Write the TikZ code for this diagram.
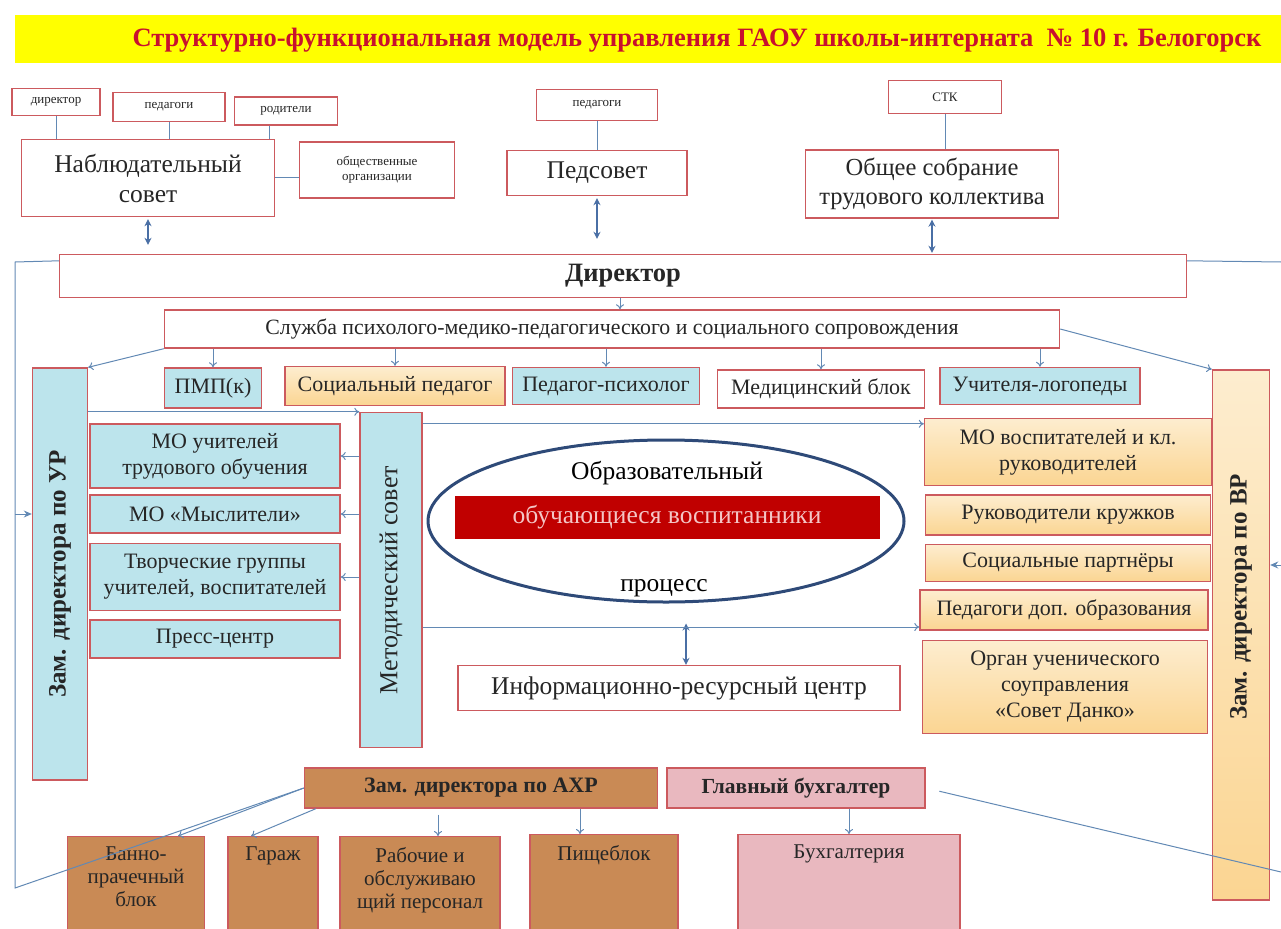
\documentclass[tikz,border=0pt]{standalone}
\usepackage{graphicx}
\usepackage{fontspec}
\setmainfont{Liberation Serif}
\usetikzlibrary{shapes,arrows,arrows.meta,positioning}

\definecolor{frame}{HTML}{CC5A5E}
\definecolor{waterblue}{HTML}{BCE4EC}
\definecolor{sandtop}{HTML}{FDEDCF}
\definecolor{sandbot}{HTML}{FBD592}
\definecolor{woodbrown}{HTML}{C98A55}
\definecolor{rosefill}{HTML}{E9B8BF}
\definecolor{linkblue}{HTML}{6289B4}
\definecolor{arrowblue}{HTML}{4A6FA5}
\definecolor{ellblue}{HTML}{2E4A78}
\definecolor{pupilred}{HTML}{C00000}
\definecolor{pupiltext}{HTML}{F4C6C6}
\definecolor{titleyellow}{HTML}{FFFF00}
\definecolor{titlered}{HTML}{C8102E}

\tikzset{
  box/.style={draw=frame, line width=1.4pt, align=center, inner sep=2pt, text=black!85},
  plain/.style={box, fill=white},
  water/.style={box, fill=waterblue},
  sand/.style={box, top color=sandtop, bottom color=sandbot},
  wood/.style={box, fill=woodbrown},
  rose/.style={box, fill=rosefill},
  tinytext/.style={font=\fontsize{13}{15}\selectfont},
  midtext/.style={font=\fontsize{22}{26}\selectfont},
  bigtext/.style={font=\fontsize{25.5}{30}\selectfont},
  boldtext/.style={font=\bfseries\fontsize{25}{28}\selectfont},
  woodlbl/.style={anchor=north, align=center, inner sep=0pt, yshift=-11pt,
    font=\fontsize{21}{23}\selectfont, text=black!85},
  link/.style={draw=linkblue, line width=1pt},
  arr/.style={link, -{To[length=5pt,width=8pt]}},
  tip/.style={link, -{Stealth[length=8pt,width=7pt]}},
  both/.style={draw=arrowblue, line width=1.3pt, {Stealth[length=7pt,width=7pt]}-{Stealth[length=7pt,width=7pt]}}
}

\begin{document}
\begin{tikzpicture}[x=1pt, y=-1pt]
\useasboundingbox (0,0) rectangle (1281,928);
\clip (0,0) rectangle (1281,928);

% title
\node[fill=titleyellow, minimum width=1266, minimum height=48] (titlebar) at (648,39) {};
\node[text=titlered, font=\bfseries\fontsize{26.5}{28}\selectfont] (title) at (697,40)
  {Структурно-функциональная модель управления ГАОУ школы-интерната ~№~10 г. Белогорск};

% top councils
\node[plain, tinytext, minimum width=88, minimum height=27] (dirsm) at (56,102) {директор};
\node[plain, tinytext, minimum width=112, minimum height=29] (pedsm) at (169,107) {педагоги};
\node[plain, tinytext, minimum width=103, minimum height=28] (rod) at (286,111) {родители};
\node[plain, bigtext, minimum width=253, minimum height=77] (nabl) at (148,178) {Наблюдательный\\совет};
\node[plain, tinytext, minimum width=155, minimum height=56] (obsh) at (377,170) {общественные\\организации};
\node[plain, tinytext, minimum width=121, minimum height=31] (pedsm2) at (597,105) {педагоги};
\node[plain, bigtext, minimum width=180, minimum height=45] (pedsovet) at (597,173) {Педсовет};
\node[plain, tinytext, minimum width=113, minimum height=33] (stk) at (945,97) {СТК};
\node[plain, font=\fontsize{24.5}{29}\selectfont, minimum width=253, minimum height=68] (sobr) at (932,184)
  {Общее собрание\\трудового коллектива};

\draw[link] (dirsm.south) -- (dirsm.south |- nabl.north);
\draw[link] (pedsm.south) -- (pedsm.south |- nabl.north);
\draw[link] ([xshift=-6]nabl.north east |- rod.south) -- ([xshift=-6]nabl.north east);
\draw[link] (nabl.east) -- (nabl.east -| obsh.west);
\draw[link] (pedsm2.south) -- (pedsovet.north);
\draw[link] (stk.south) -- (stk.south |- sobr.north);

% director
\node[plain, font=\bfseries\fontsize{26.5}{30}\selectfont, minimum width=1127, minimum height=43] (director) at (623,276) {Директор};
\draw[both, shorten <=2pt, shorten >=9pt] (nabl.south) -- (nabl.south |- director.north);
\draw[both, shorten <=2pt, shorten >=15pt] (pedsovet.south) -- (pedsovet.south |- director.north);
\draw[both, shorten <=1pt, shorten >=1pt] (sobr.south) -- (sobr.south |- director.north);

% support service
\node[plain, font=\fontsize{21.8}{25}\selectfont, minimum width=895, minimum height=38] (sluzhba) at (612,329)
  {Служба психолого-медико-педагогического и социального сопровождения};
\draw[arr] (director.south -| 620,0) -- (sluzhba.north -| 620,0);

\node[water, midtext, minimum width=97, minimum height=40] (pmp) at (213,388) {ПМП(к)};
\node[sand, midtext, minimum width=220, minimum height=39] (socped) at (395,386) {Социальный педагог};
\node[water, midtext, minimum width=187, minimum height=37] (psych) at (606,386) {Педагог-психолог};
\node[plain, midtext, minimum width=207, minimum height=38] (med) at (821,389) {Медицинский блок};
\node[water, midtext, minimum width=200, minimum height=37] (logo) at (1040,386) {Учителя-логопеды};
\foreach \n in {pmp,socped,psych,med,logo}
  \draw[arr] (sluzhba.south -| \n.north) -- (\n.north);

% deputies
\node[water, boldtext, minimum width=55, minimum height=412] (zamur) at (60,574) {\rotatebox{90}{Зам. директора по УР}};
\node[sand, boldtext, minimum width=57, minimum height=530] (zamvr) at (1241,635) {\rotatebox{90}{\hspace{76pt}Зам. директора по ВР}};
\draw[arr] (sluzhba.south west) -- (zamur.north east);
\draw[arr] (sluzhba.east) -- (zamvr.north west);

% methodical council
\node[water, font=\fontsize{26}{30}\selectfont, minimum width=62, minimum height=335] (metsov) at (391,580) {\rotatebox{90}{Методический совет}};
\node[water, midtext, minimum width=250, minimum height=64] (mo1) at (215,456) {МО учителей\\трудового обучения};
\node[water, midtext, minimum width=250, minimum height=38] (mo2) at (215,514) {МО «Мыслители»};
\node[water, midtext, minimum width=250, minimum height=67] (tvor) at (215,577) {Творческие группы\\учителей, воспитателей};
\node[water, midtext, minimum width=250, minimum height=38] (press) at (215,639) {Пресс-центр};
\draw[arr] (zamur.east |- metsov.north) -- (metsov.north west);
\foreach \n in {mo1,mo2,tvor}
  \draw[arr] (metsov.west |- \n.east) -- (\n.east);

% educational process
\node[draw=ellblue, line width=3pt, ellipse, minimum width=476, minimum height=162] (proc) at (666,521) {};
\node[bigtext] (obr) at (667,473) {Образовательный};
\node[fill=pupilred, text=pupiltext, bigtext, minimum width=425, minimum height=43] (pupils) at (667,517) {обучающиеся воспитанники};
\node[bigtext] (procw) at (664,588) {процесс};
\node[plain, bigtext, minimum width=442, minimum height=45] (irc) at (679,688) {Информационно-ресурсный центр};
\draw[both, shorten >=20pt] ([xshift=7]irc.north) -- ([xshift=7]irc.north |- proc.south);

% educational work
\node[sand, midtext, minimum width=287, minimum height=67] (mov) at (1068,452) {МО воспитателей и кл.\\руководителей};
\node[sand, midtext, minimum width=285, minimum height=40] (ruk) at (1068,515) {Руководители кружков};
\node[sand, midtext, minimum width=285, minimum height=37] (socpart) at (1068,563) {Социальные партнёры};
\node[sand, midtext, minimum width=288, minimum height=40] (peddop) at (1064,610) {Педагоги доп. образования};
\node[sand, midtext, minimum width=285, minimum height=93] (organ) at (1065,687) {Орган ученического\\соуправления\\«Совет Данко»};
\draw[arr] ([yshift=-12]metsov.north east) -- ([yshift=-12]metsov.north east -| mov.west);
\draw[arr] (metsov.east |- 0,627) -- (peddop.west |- 0,627);

% economy and accounting
\node[wood, font=\bfseries\fontsize{22}{25}\selectfont, minimum width=353, minimum height=40] (axr) at (481,788) {Зам. директора по АХР};
\node[rose, font=\bfseries\fontsize{21.5}{25}\selectfont, minimum width=258, minimum height=40] (buh) at (796,788) {Главный бухгалтер};
\node[wood, anchor=north, minimum width=137, minimum height=110, label={[woodlbl]north:Банно-\\прачечный\\блок}] (bann) at (136,836) {};
\node[wood, anchor=north, minimum width=90, minimum height=110, label={[woodlbl]north:Гараж}] (garazh) at (273,836) {};
\node[wood, anchor=north, minimum width=160, minimum height=110, label={[woodlbl]north:Рабочие и\\обслуживаю\\щий персонал}] (rab) at (420,836) {};
\node[wood, anchor=north, minimum width=148, minimum height=110, label={[woodlbl]north:Пищеблок}] (pish) at (604,834) {};
\node[rose, anchor=north, minimum width=222, minimum height=110, label={[woodlbl]north:Бухгалтерия}] (buhg) at (849,834) {};
\draw[arr] (axr.west) -- ([xshift=42]bann.north);
\draw[arr] ([xshift=12]axr.south west) -- ([xshift=-22]garazh.north);
\draw[arr, shorten <=6pt] ([xshift=18]rab.north |- axr.south) -- ([xshift=18]rab.north);
\draw[arr] ([xshift=-24]pish.north |- axr.south) -- ([xshift=-24]pish.north);
\draw[arr] (buhg.north |- buh.south) -- (buhg.north);

% outer links
\coordinate (lt) at (15,262);
\coordinate (lb) at (15,888);
\coordinate (rt) at (1281,262);
\coordinate (rm) at (1281,565);
\coordinate (rb) at (1281,872);
\draw[link] ([yshift=-7]director.north west) -- (lt) -- (lb) -- (axr.west);
\draw[tip] (lt |- mo2.east) -- (zamur.west |- mo2.east);
\draw[link] ([yshift=-7]director.north east) -- (rt);
\draw[tip] (rm) -- (zamvr.east |- rm);
\draw[link, shorten <=14pt] (buh.east) -- (rb);
\end{tikzpicture}
\end{document}
